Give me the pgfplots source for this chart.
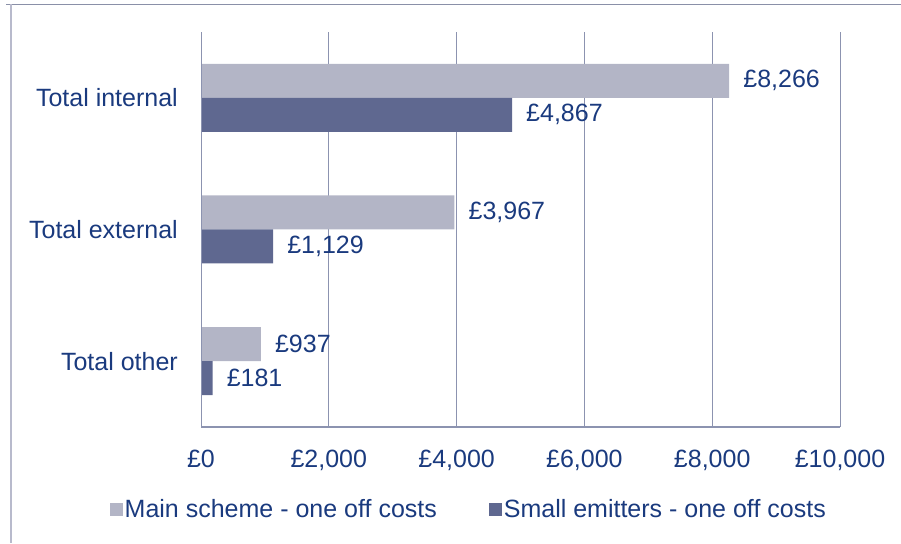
\documentclass[border=0pt]{standalone}
\usepackage{pgfplots}
\pgfplotsset{compat=1.18}
\usepackage{fontspec}
\setmainfont{Liberation Sans}
\definecolor{mainc}{HTML}{B3B5C6}
\definecolor{smallc}{HTML}{5F6890}
\definecolor{txt}{HTML}{1A3A7E}
\definecolor{gridc}{HTML}{8C93B0}
\definecolor{frameL}{HTML}{B8BACC}
\definecolor{frameT}{HTML}{8A90A8}
\newcommand{\fs}{\fontsize{25}{30}\selectfont}
\begin{document}
\begin{tikzpicture}
\useasboundingbox (0,0) rectangle (901pt,543pt);
\draw[frameT, line width=1.2pt] (6pt,538.5pt) -- (901pt,538.5pt);
\draw[frameL, line width=1.5pt] (11pt,538.5pt) -- (11pt,0pt);
\begin{axis}[
  at={(201pt,116pt)}, anchor=south west,
  width=639pt, height=395pt, scale only axis,
  xbar, bar width=34pt,
  xmin=0, xmax=10000, ymin=-0.5, ymax=2.5,
  scaled x ticks=false,
  axis line style={draw=none},
  xtick={0,2000,4000,6000,8000,10000},
  xticklabels={£0,{£2,000},{£4,000},{£6,000},{£8,000},{£10,000}},
  ytick={0,1,2},
  yticklabels={Total other,Total external,Total internal},
  major tick length=0pt,
  xmajorgrids, major grid style={gridc, line width=0.8pt},
  xticklabel style={font=\fs, text=txt, anchor=north, inner sep=0pt, yshift=-23pt},
  yticklabel style={font=\fs, text=txt, anchor=east, inner sep=0pt, xshift=-23pt},
  nodes near coords,
  nodes near coords style={font=\fs, text=txt, anchor=west, inner sep=0pt, xshift=14pt},
  point meta=explicit symbolic,
  legend columns=2,
  legend style={draw=none, fill=none, font=\fs, text=txt,
    at={(0.419,-0.2076)}, anchor=center,
    /tikz/every even column/.append style={column sep=50pt}},
  legend image code/.code={\fill[#1] (-7pt,-6.5pt) rectangle (6pt,6.5pt);},
]
\addplot+[bar shift=17pt, fill=mainc, draw=none] coordinates {(937,0) [£937] (3967,1) [£3,967] (8266,2) [£8,266]};
\addplot+[bar shift=-17pt, fill=smallc, draw=none] coordinates {(181,0) [£181] (1129,1) [£1,129] (4867,2) [£4,867]};
\legend{Main scheme - one off costs, Small emitters - one off costs}
\draw[gridc, line width=1.2pt] (rel axis cs:0,0) -- (rel axis cs:1,0);
\draw[gridc, line width=1.2pt] (rel axis cs:0,0) -- (rel axis cs:0,1);
\end{axis}
\end{tikzpicture}
\end{document}
